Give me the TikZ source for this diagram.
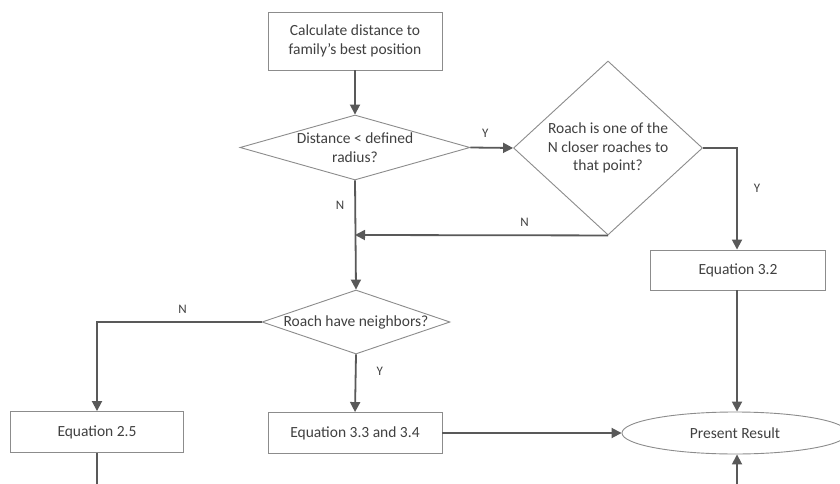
\documentclass[tikz,border=0pt]{standalone}
\usepackage{fontspec}
\setmainfont{Carlito}
\usetikzlibrary{shapes.geometric,arrows.meta}
\definecolor{linec}{HTML}{595959}
\definecolor{borderc}{HTML}{8C8C8C}
\definecolor{textc}{HTML}{404040}
\tikzset{
  base/.style={draw=borderc, line width=0.9pt, text=textc, font=\fontsize{15.5}{18.5}\selectfont, align=center, inner sep=0pt},
  box/.style={base, rectangle},
  dia/.style={base, diamond},
  ell/.style={base, ellipse},
  conn/.style={draw=linec, line width=1.8pt},
  arr/.style={conn, -{Triangle[length=10pt,width=10pt]}},
  lbl/.style={text=textc, font=\fontsize{13}{15}\selectfont, inner sep=0pt}
}
\begin{document}
\begin{tikzpicture}[x=1pt,y=-1pt]
\useasboundingbox (0,0) rectangle (840,484);
\clip (0,0) rectangle (840,484);
\fill[white] (0,0) rectangle (840,484);

\node[box, minimum width=174pt, minimum height=58pt] (top) at (355,41) {Calculate distance to\\family’s best position};
\node[dia, aspect=3.54, minimum width=230pt, minimum height=65pt] (d1) at (355,147.5) {Distance < defined\\radius?};
\node[dia, aspect=1.09, minimum width=189pt, minimum height=174pt] (d2) at (608,148) {Roach is one of the\\N closer roaches to\\that point?};
\node[box, minimum width=175pt, minimum height=40pt] (eq32) at (738,270) {Equation 3.2};
\node[dia, aspect=2.94, minimum width=188pt, minimum height=64pt] (d3) at (356,322) {Roach have neighbors?};
\node[box, minimum width=173pt, minimum height=41pt] (eq25) at (97,432) {Equation 2.5};
\node[box, minimum width=174pt, minimum height=41pt] (eq33) at (355,433) {Equation 3.3 and 3.4};
\node[ell, minimum width=226pt, minimum height=42pt] (res) at (735,433) {Present Result};

\coordinate (j) at (355,235);
\coordinate (b1) at (737,490);
\coordinate (b2) at (97,490);

\draw[arr] (top) -- (d1);
\draw[arr] (d1.east) -- (d2.west) node[lbl, pos=0.35, above=9pt] {Y};
\draw[arr] (d2.east) -| (eq32.north -| b1) node[lbl, pos=0.7, right=16pt] {Y};
\draw[arr] (d2.south) -- (j) node[lbl, pos=0.33, above=8pt] {N};
\draw[arr] (d1.south) -- (d3.north) node[lbl, pos=0.23, left=10pt] {N};
\draw[arr] (d3.west) -| (eq25.north) node[lbl, pos=0.24, above=8pt] {N};
\draw[arr] (d3.south) -- (eq33.north) node[lbl, pos=0.3, right=20pt] {Y};
\draw[arr] (eq33.east) -- (res.west);
\draw[arr] (eq32.south -| b1) -- (res.north -| b1);
\draw[arr] (b1) -- (res.south -| b1);
\draw[conn] (eq25.south) -- (b2);
\end{tikzpicture}
\end{document}
